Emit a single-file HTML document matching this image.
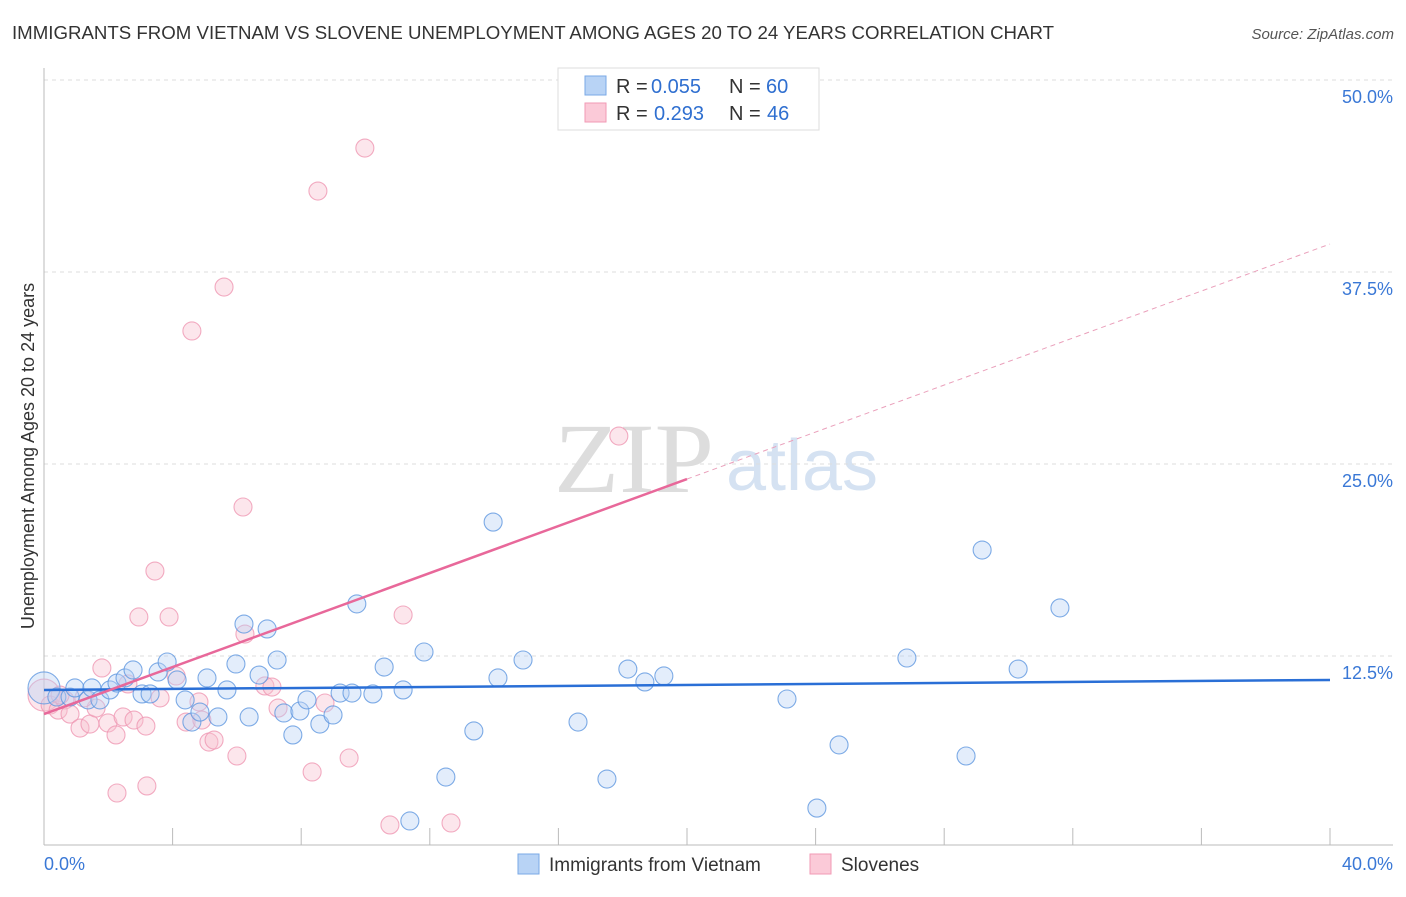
<!DOCTYPE html>
<html><head><meta charset="utf-8"><style>
body{margin:0;background:#fff;font-family:"Liberation Sans",sans-serif}
</style></head><body>
<svg id="c" width="1406" height="892" xmlns="http://www.w3.org/2000/svg" style="font-family:'Liberation Sans',sans-serif">
<text x="12" y="39" font-size="18" fill="#333" textLength="1042" lengthAdjust="spacingAndGlyphs">IMMIGRANTS FROM VIETNAM VS SLOVENE UNEMPLOYMENT AMONG AGES 20 TO 24 YEARS CORRELATION CHART</text>
<text x="1394" y="39" font-size="15" fill="#555" font-style="italic" text-anchor="end">Source: ZipAtlas.com</text>
<text x="634" y="492" font-size="100" fill="#ddd" font-family="Liberation Serif" text-anchor="middle" textLength="160" lengthAdjust="spacingAndGlyphs">ZIP</text>
<text x="802" y="490" font-size="72" fill="#d5e2f2" text-anchor="middle">atlas</text>
<g id="grid"></g><g id="axes"></g><g id="pts"></g><g id="trend"></g>
<text transform="translate(34,456) rotate(-90)" font-size="18" fill="#333" text-anchor="middle">Unemployment Among Ages 20 to 24 years</text>
<g>
<rect x="558" y="68" width="261" height="62" fill="#fff" stroke="#ddd"/>
<rect x="585" y="76" width="21" height="19" fill="#b8d3f5" stroke="#7aa8e6"/>
<rect x="585" y="103" width="21" height="19" fill="#fbcad8" stroke="#f19ab5"/>
<text x="616" y="93" font-size="20" fill="#333">R =</text>
<text x="651" y="93" font-size="20" fill="#2f6fd0">0.055</text>
<text x="729" y="93" font-size="20" fill="#333">N =</text>
<text x="766" y="93" font-size="20" fill="#2f6fd0">60</text>
<text x="616" y="120" font-size="20" fill="#333">R =</text>
<text x="654" y="120" font-size="20" fill="#2f6fd0">0.293</text>
<text x="729" y="120" font-size="20" fill="#333">N =</text>
<text x="767" y="120" font-size="20" fill="#2f6fd0">46</text>
</g>
<g>
<rect x="518" y="854" width="21" height="20" fill="#b8d3f5" stroke="#7aa8e6"/>
<text x="549" y="871" font-size="19" fill="#333">Immigrants from Vietnam</text>
<rect x="810" y="854" width="21" height="20" fill="#fbcad8" stroke="#f19ab5"/>
<text x="841" y="871" font-size="19" fill="#333">Slovenes</text>
</g>
</svg>
<script>
const blueX=[0,0.40,0.81,0.96,1.37,1.49,1.74,2.05,2.27,2.52,2.77,3.05,3.30,3.55,3.83,4.14,4.39,4.60,4.85,5.07,5.41,5.69,5.97,6.22,6.38,6.69,6.94,7.25,7.46,7.74,7.96,8.18,8.58,8.99,9.21,9.58,9.73,10.23,10.58,11.17,11.38,11.82,12.50,13.37,13.97,14.12,14.90,16.61,17.51,18.16,18.69,19.28,23.11,24.04,24.73,26.84,28.68,29.18,30.30,31.60];
const blueY=[10.42,9.83,9.83,10.42,9.64,10.42,9.64,10.29,10.74,11.07,11.59,10.03,10.03,11.46,12.11,10.94,9.64,8.20,8.85,11.07,8.53,10.29,11.98,14.58,8.53,11.26,14.26,12.24,8.79,7.36,8.92,9.64,8.07,8.66,10.09,10.09,15.89,10.03,11.78,10.29,1.76,12.76,4.62,7.62,21.22,11.07,12.24,8.20,4.49,11.65,10.81,11.20,9.70,2.60,6.71,12.37,5.99,19.40,11.65,15.63];
const pinkX=[0,0.19,0.44,0.65,0.81,1.12,1.43,1.62,1.80,1.99,2.24,2.27,2.46,2.61,2.80,2.95,3.17,3.20,3.45,3.61,3.89,4.11,4.42,4.60,4.82,4.91,5.13,5.29,5.60,6.00,6.19,6.25,6.87,7.09,7.28,8.34,8.52,8.74,9.49,9.98,10.76,11.17,12.66,17.88,1.24,0.50];
const pinkY=[9.96,9.31,8.98,9.64,8.72,7.81,8.07,9.11,11.72,8.14,7.36,3.58,8.53,10.68,8.33,15.04,7.94,4.04,18.03,9.77,15.04,11.20,8.20,33.66,9.51,8.33,6.90,7.03,36.52,5.99,22.20,13.93,10.55,10.48,9.11,4.95,42.77,9.44,5.86,45.57,1.50,15.17,1.63,26.82,9.77,9.96];
const yTicks=[12.5,25,37.5,50];
const yTickLabels=["12.5%","25.0%","37.5%","50.0%"];
const blueTrend=[10.29,10.94];
const pinkTrend=[8.72,39.32];
const NS="http://www.w3.org/2000/svg";
const X=v=>44+v/40*1286, Y=v=>848-v/12.5*192;
function mk(p,t,a){const e=document.createElementNS(NS,t);for(const k in a)e.setAttribute(k,a[k]);p.appendChild(e);return e;}
const g=document.getElementById('grid'),ax=document.getElementById('axes'),pts=document.getElementById('pts'),tr=document.getElementById('trend');
yTicks.forEach((t,i)=>{
 const l=mk(g,'line',{x1:44,x2:1393,y1:Y(t),y2:Y(t),stroke:'#ddd','stroke-dasharray':'4,4'});
 
 
 const tx=mk(g,'text',{x:1393,y:Y(t)+23,'font-size':18,fill:'#3a78d6','text-anchor':'end'});
 tx.textContent=yTickLabels[i];
 
 
});
mk(ax,'line',{x1:44,x2:44,y1:68,y2:845,stroke:'#bbb'});
mk(ax,'line',{x1:44,x2:1393,y1:845,y2:845,stroke:'#bbb'});
for(let i=1;i<=10;i++){const t=mk(ax,'line',{x1:X(i*4),x2:X(i*4),y1:828,y2:845,stroke:'#bbb'});
 
 }
const x0=mk(ax,'text',{x:44,y:870,'font-size':18,fill:'#3a78d6'});x0.textContent='0.0%';


const x1=mk(ax,'text',{x:1393,y:870,'font-size':18,fill:'#3a78d6','text-anchor':'end'});x1.textContent='40.0%';


function dots(xs,ys,fill,stroke,name){xs.forEach((v,i)=>{
 const c=mk(pts,'circle',{cx:X(v),cy:Y(ys[i]),r:i===0?16:9,fill:fill,'fill-opacity':0.4,stroke:stroke,'stroke-opacity':0.8,'stroke-width':1.1});
 
 
});}
dots(pinkX,pinkY,'#f8c0d0','#ef97b3','slovenes-point');
dots(blueX,blueY,'#b8d3f5','#5f97e0','vietnam-point');
const bl=mk(tr,'line',{x1:X(0),y1:Y(blueTrend[0]),x2:X(40),y2:Y(blueTrend[1]),stroke:'#2a6fd6','stroke-width':2.5});


const pm=pinkTrend[0]+(pinkTrend[1]-pinkTrend[0])*0.5;
const ps=mk(tr,'line',{x1:X(0),y1:Y(pinkTrend[0]),x2:X(20),y2:Y(pm),stroke:'#e8689a','stroke-width':2.5});


const pd=mk(tr,'line',{x1:X(20),y1:Y(pm),x2:X(40),y2:Y(pinkTrend[1]),stroke:'#eaa0bb','stroke-width':1,'stroke-dasharray':'5,4'});


</script>
</body></html>
